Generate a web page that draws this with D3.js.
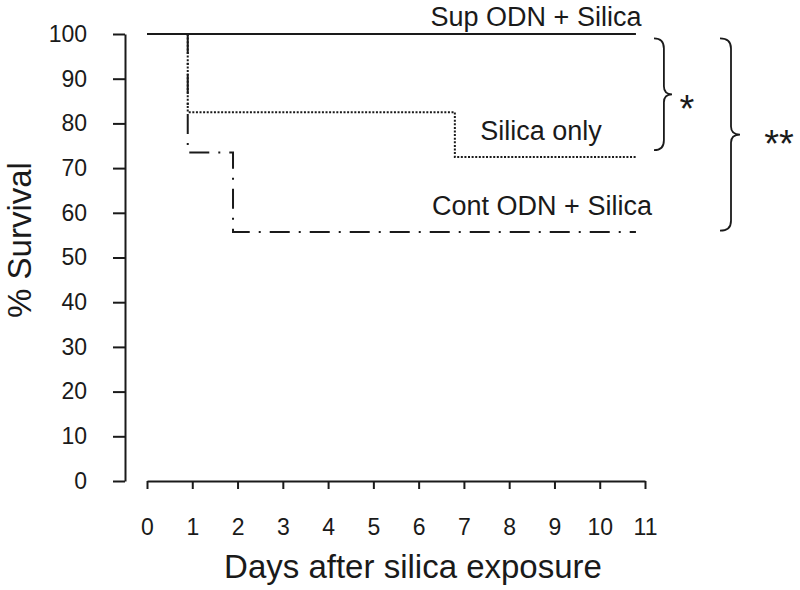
<!DOCTYPE html>
<html>
<head>
<meta charset="utf-8">
<script src="https://cdn.jsdelivr.net/npm/d3@7"></script>
<style>
  body { margin: 0; background: #fff; }
  text { font-family: "Liberation Sans", Arial, sans-serif; fill: #1a1a1a; }
</style>
</head>
<body>
<div id="chart-area"></div>
<script>
// data
var days = [0, 1, 2, 3, 4, 5, 6, 7, 8, 9, 10, 11];
var yTicks = [0, 10, 20, 30, 40, 50, 60, 70, 80, 90, 100];

// step curves: [day, % survival]
var supODN = [[0, 100], [10.8, 100]];
var silicaOnly = [[0.9, 100], [0.9, 82.5], [6.8, 82.5], [6.8, 72.5], [10.8, 72.5]];
var contODN = [[0.9, 100], [0.9, 73.5], [1.9, 73.5], [1.9, 55.7], [10.8, 55.7]];

var seriesNames = ["Sup ODN + Silica", "Silica only", "Cont ODN + Silica"];

var width = 800, height = 590;

var svg = d3.select("#chart-area")
  .append("svg")
  .attr("width", width)
  .attr("height", height);

var x = d3.scaleLinear()
  .domain([0, 11])
  .range([147, 645]);

var y = d3.scaleLinear()
  .domain([0, 100])
  .range([481, 34]);

// Y axis
var yAxis = svg.append("g")
  .attr("transform", "translate(125,0)")
  .call(d3.axisLeft(y).tickValues(yTicks).tickSize(12).tickPadding(26).tickSizeOuter(0));
yAxis.select(".domain").attr("stroke", "#1a1a1a").attr("stroke-width", 2);
yAxis.selectAll(".tick line").attr("stroke", "#1a1a1a").attr("stroke-width", 2);
yAxis.selectAll(".tick text")
  .attr("font-size", "23px")
  .attr("font-family", "Liberation Sans, Arial, sans-serif")
  .attr("fill", "#1a1a1a");

// X axis
var xAxis = svg.append("g")
  .attr("transform", "translate(0,481)")
  .call(d3.axisBottom(x).tickValues(days).tickSize(8).tickPadding(30).tickSizeOuter(0));
xAxis.select(".domain").attr("stroke", "#1a1a1a").attr("stroke-width", 2);
xAxis.selectAll(".tick line").attr("stroke", "#1a1a1a").attr("stroke-width", 2);
xAxis.selectAll(".tick text")
  .attr("font-size", "23px")
  .attr("font-family", "Liberation Sans, Arial, sans-serif")
  .attr("fill", "#1a1a1a");

// axis titles
svg.append("text")
  .attr("x", 413)
  .attr("y", 578)
  .attr("font-size", "33px")
  .attr("text-anchor", "middle")
  .text("Days after silica exposure");

svg.append("text")
  .attr("transform", "rotate(-90)")
  .attr("x", -240)
  .attr("y", 31)
  .attr("font-size", "33px")
  .attr("text-anchor", "middle")
  .text("% Survival");

// survival lines
var line = d3.line()
  .x(function(d) { return x(d[0]); })
  .y(function(d) { return y(d[1]); });

svg.append("path")
  .datum(supODN)
  .attr("d", line)
  .attr("fill", "none")
  .attr("stroke", "#1a1a1a")
  .attr("stroke-width", 2);

svg.append("path")
  .datum(silicaOnly)
  .attr("d", line)
  .attr("fill", "none")
  .attr("stroke", "#1a1a1a")
  .attr("stroke-width", 2)
  .attr("stroke-dasharray", "2,1.6");

svg.append("path")
  .datum(contODN)
  .attr("d", line)
  .attr("fill", "none")
  .attr("stroke", "#1a1a1a")
  .attr("stroke-width", 2)
  .attr("stroke-dasharray", "20,9,2,9");

// series labels
svg.append("text")
  .attr("x", 536)
  .attr("y", 26)
  .attr("font-size", "27px")
  .attr("text-anchor", "middle")
  .text(seriesNames[0]);

svg.append("text")
  .attr("x", 541)
  .attr("y", 140)
  .attr("font-size", "27px")
  .attr("text-anchor", "middle")
  .text(seriesNames[1]);

svg.append("text")
  .attr("x", 542)
  .attr("y", 215)
  .attr("font-size", "27px")
  .attr("text-anchor", "middle")
  .text(seriesNames[2]);

// significance braces
function brace(x0, yTop, yBot, w) {
  var ym = (yTop + yBot) / 2;
  var xm = x0 + w * 0.55;
  return "M" + x0 + "," + yTop +
    " Q" + xm + "," + yTop + " " + xm + "," + (yTop + 10) +
    " L" + xm + "," + (ym - 8) +
    " Q" + xm + "," + ym + " " + (x0 + w) + "," + ym +
    " Q" + xm + "," + ym + " " + xm + "," + (ym + 8) +
    " L" + xm + "," + (yBot - 10) +
    " Q" + xm + "," + yBot + " " + x0 + "," + yBot;
}

svg.append("path")
  .attr("d", brace(654, y(99), y(74), 18))
  .attr("fill", "none")
  .attr("stroke", "#1a1a1a")
  .attr("stroke-width", 1.8);

svg.append("path")
  .attr("d", brace(720, y(99), y(56), 20))
  .attr("fill", "none")
  .attr("stroke", "#1a1a1a")
  .attr("stroke-width", 1.8);

svg.append("text")
  .attr("x", 687)
  .attr("y", 122)
  .attr("font-size", "38px")
  .attr("text-anchor", "middle")
  .text("*");

svg.append("text")
  .attr("x", 779)
  .attr("y", 157)
  .attr("font-size", "38px")
  .attr("text-anchor", "middle")
  .text("**");
</script>
</body>
</html>
